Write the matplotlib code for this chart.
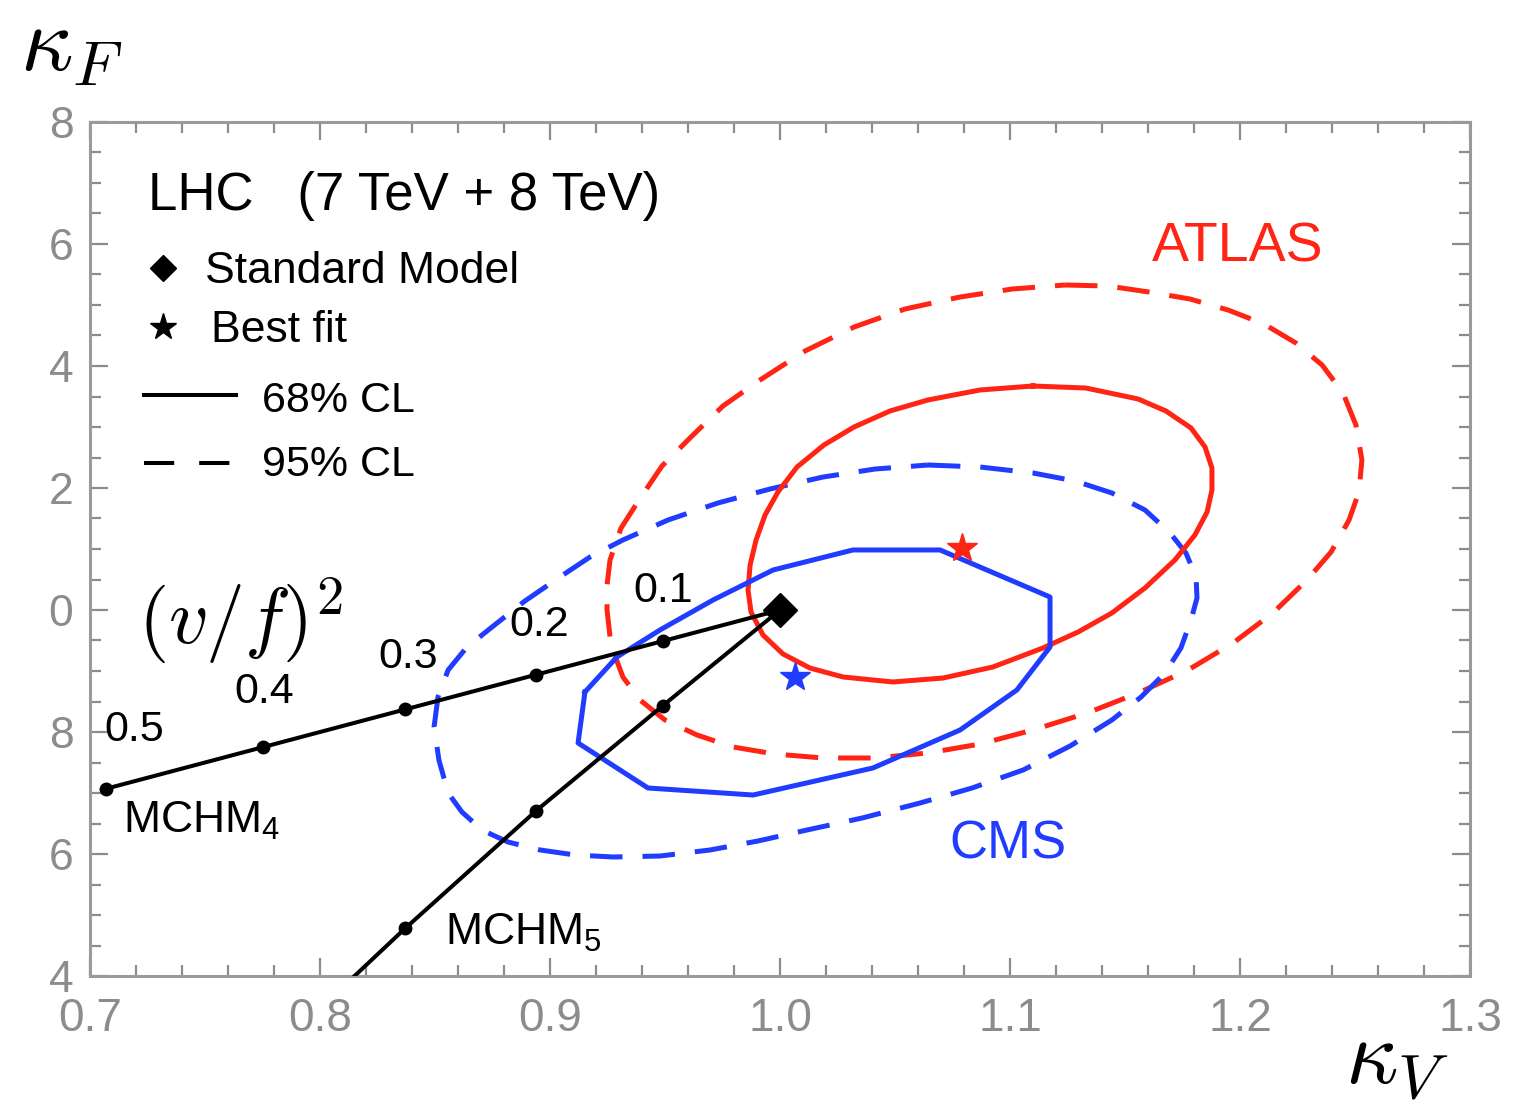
import matplotlib.pyplot as plt
import numpy as np
from matplotlib.ticker import MultipleLocator

plt.rcParams['font.family'] = ['Liberation Sans', 'DejaVu Sans']
plt.rcParams['mathtext.fontset'] = 'cm'
plt.rcParams['mathtext.rm'] = 'Liberation Sans'
plt.rcParams['mathtext.it'] = 'Liberation Sans:italic'

# composite Higgs benchmark lines, (v/f)^2 = 0 ... 0.5
xi = [0.0, 0.1, 0.2, 0.3, 0.4, 0.5]
mchm4_kv = [1.0, 0.949, 0.894, 0.837, 0.775, 0.707]
mchm4_kf = [1.0, 0.949, 0.894, 0.837, 0.775, 0.707]
mchm5_kv = [1.0, 0.949, 0.894, 0.837, 0.775]
mchm5_kf = [1.0, 0.843, 0.671, 0.478, 0.258]
xi_labels = ['0.1', '0.2', '0.3', '0.4', '0.5']

# ATLAS contours
atlas68_kv = [1.1100, 1.1330, 1.1557, 1.1678, 1.1787, 1.1848, 1.1878, 1.1878, 1.1857,
              1.1804, 1.1717, 1.1587, 1.1443, 1.1296, 1.1143, 1.0926, 1.0709, 1.0491,
              1.0274, 1.0130, 1.0013, 0.9926, 0.9874, 0.9861, 0.9870, 0.9896, 0.9935,
              0.9991, 1.0074, 1.0191, 1.0322, 1.0478, 1.0643, 1.0870, 1.1100]
atlas68_kf = [1.3672, 1.3639, 1.3459, 1.3262, 1.2984, 1.2672, 1.2328, 1.1967, 1.1607,
              1.1230, 1.0820, 1.0361, 0.9951, 0.9639, 0.9377, 0.9066, 0.8885, 0.8820,
              0.8902, 0.9049, 0.9279, 0.9590, 0.9967, 1.0328, 1.0738, 1.1148, 1.1557,
              1.1934, 1.2344, 1.2705, 1.3000, 1.3262, 1.3443, 1.3607, 1.3672]
atlas95_kv = [1.1239, 1.1426, 1.1604, 1.1783, 1.1948, 1.2104, 1.2243, 1.2357, 1.2448,
              1.2504, 1.2530, 1.2517, 1.2474, 1.2396, 1.2291, 1.2143, 1.1970, 1.1774,
              1.1557, 1.1335, 1.1100, 1.0870, 1.0643, 1.0413, 1.0187, 0.9978, 0.9796,
              0.9639, 0.9500, 0.9391, 0.9317, 0.9265, 0.9248, 0.9248, 0.9261, 0.9309,
              0.9387, 0.9487, 0.9613, 0.9752, 0.9913, 1.0109, 1.0322, 1.0543, 1.0783,
              1.1009, 1.1239]
atlas95_kf = [1.5328, 1.5311, 1.5213, 1.5098, 1.4918, 1.4689, 1.4377, 1.4016, 1.3557,
              1.3033, 1.2459, 1.1934, 1.1475, 1.0951, 1.0492, 0.9951, 0.9459, 0.9016,
              0.8639, 0.8311, 0.8033, 0.7803, 0.7656, 0.7574, 0.7574, 0.7639, 0.7754,
              0.7951, 0.8197, 0.8525, 0.8902, 0.9426, 1.0000, 1.0410, 1.0820, 1.1344,
              1.1803, 1.2361, 1.2836, 1.3344, 1.3770, 1.4246, 1.4639, 1.4934, 1.5131,
              1.5262, 1.5328]

# CMS contours
cms68_kv = [0.9152, 0.9291, 0.9478, 0.9709, 0.9970, 1.0317, 1.0696, 1.1174, 1.1174,
            1.1030, 1.0783, 1.0404, 0.9883, 0.9426, 0.9122, 0.9152]
cms68_kf = [0.8656, 0.9230, 0.9672, 1.0164, 1.0656, 1.0984, 1.0984, 1.0213, 0.9393,
            0.8689, 0.8033, 0.7410, 0.6967, 0.7082, 0.7820, 0.8656]
cms95_kv = [1.0643, 1.0870, 1.1100, 1.1283, 1.1443, 1.1587, 1.1696, 1.1765, 1.1809,
            1.1813, 1.1787, 1.1743, 1.1674, 1.1570, 1.1443, 1.1261, 1.1057, 1.0835,
            1.0609, 1.0357, 1.0117, 0.9904, 0.9696, 0.9478, 0.9274, 0.9109, 0.8957,
            0.8817, 0.8704, 0.8617, 0.8557, 0.8517, 0.8496, 0.8513, 0.8557, 0.8639,
            0.8748, 0.8891, 0.9043, 0.9174, 0.9317, 0.9513, 0.9730, 0.9957, 1.0187,
            1.0413, 1.0643]
cms95_kf = [1.2377, 1.2344, 1.2246, 1.2115, 1.1918, 1.1639, 1.1262, 1.0934, 1.0541,
            1.0197, 0.9836, 0.9377, 0.8967, 0.8574, 0.8197, 0.7770, 0.7377, 0.7082,
            0.6836, 0.6590, 0.6393, 0.6213, 0.6066, 0.5967, 0.5951, 0.5984, 0.6066,
            0.6197, 0.6393, 0.6689, 0.7000, 0.7541, 0.8082, 0.8574, 0.9016, 0.9393,
            0.9721, 1.0148, 1.0541, 1.0869, 1.1148, 1.1475, 1.1754, 1.1984, 1.2180,
            1.2311, 1.2377]

sm_point = (1.0, 1.0)
atlas_best = (1.0791, 1.1016)
cms_best = (1.0065, 0.8902)

xticks = [0.7, 0.8, 0.9, 1.0, 1.1, 1.2, 1.3]
xtick_labels = ['0.7', '0.8', '0.9', '1.0', '1.1', '1.2', '1.3']
yticks = [0.4, 0.6, 0.8, 1.0, 1.2, 1.4, 1.6, 1.8]
ytick_labels = ['4', '6', '8', '0', '2', '4', '6', '8']   # left part cropped in the original

red = '#ff2414'
blue = '#1f3cff'
gray = '#8c8c8c'

fig = plt.figure(figsize=(15.16, 11.07), dpi=100)
ax = fig.add_axes([90 / 1516, 131 / 1107, 1380 / 1516, 854 / 1107])

ax.plot(atlas95_kv, atlas95_kf, color=red, lw=3.6, ls=(0, (6.5, 4)), zorder=2)
ax.plot(cms95_kv, cms95_kf, color=blue, lw=3.6, ls=(0, (6.5, 4)), zorder=2)
ax.plot(atlas68_kv, atlas68_kf, color=red, lw=3.6, zorder=3)
ax.plot(cms68_kv, cms68_kf, color=blue, lw=3.6, zorder=3)

ax.plot(mchm4_kv, mchm4_kf, color='black', lw=2.9, zorder=4)
ax.plot(mchm4_kv[1:], mchm4_kf[1:], 'o', color='black', ms=9, zorder=4)
ax.plot(mchm5_kv, mchm5_kf, color='black', lw=2.9, zorder=4)
ax.plot(mchm5_kv[1:], mchm5_kf[1:], 'o', color='black', ms=9, zorder=4)

ax.plot(*sm_point, 'D', color='black', ms=17, zorder=6)
ax.plot(*atlas_best, '*', color=red, ms=22, zorder=6)
ax.plot(*cms_best, '*', color=blue, ms=22, zorder=6)

offs = [(0, 36), (2, 36), (2, 38), (1, 40), (20, 42)]
for lab, kv, kf, off in zip(xi_labels, mchm4_kv[1:], mchm4_kf[1:], offs):
    ax.annotate(lab, (kv, kf), xytext=off, textcoords='offset points',
                ha='center', va='center', fontsize=31)

ax.text(0.024, 0.1674, r'MCHM$_\mathrm{4}$', transform=ax.transAxes, fontsize=32,
        math_fontfamily='custom')
ax.text(0.2572, 0.0363, r'MCHM$_\mathrm{5}$', transform=ax.transAxes, fontsize=32,
        math_fontfamily='custom')
ax.text(0.035, 0.415, r'$(v/f)^2$', transform=ax.transAxes, fontsize=56,
        va='center')

ax.text(0.8319, 0.8536, 'ATLAS', color=red, transform=ax.transAxes, fontsize=40,
        ha='center', va='center')
ax.text(0.6652, 0.1534, 'CMS', color=blue, transform=ax.transAxes, fontsize=38,
        ha='center', va='center')

# legend block
ax.text(0.042, 0.897, 'LHC   (7 TeV + 8 TeV)', transform=ax.transAxes, fontsize=38)
ax.plot([0.0529], [0.829], 'D', color='black', ms=13, transform=ax.transAxes)
ax.text(0.0833, 0.8115, 'Standard Model', transform=ax.transAxes, fontsize=32)
ax.plot([0.0529], [0.760], '*', color='black', ms=20, transform=ax.transAxes)
ax.text(0.0877, 0.7424, 'Best fit', transform=ax.transAxes, fontsize=32)
ax.plot([0.0391, 0.1058], [0.680, 0.680], color='black', lw=2.9, transform=ax.transAxes)
ax.text(0.1246, 0.6604, '68% CL', transform=ax.transAxes, fontsize=31)
ax.plot([0.0391, 0.1029], [0.6007, 0.6007], color='black', lw=2.9, ls=(0, (7.5, 6.2)),
        transform=ax.transAxes)
ax.text(0.1246, 0.5855, '95% CL', transform=ax.transAxes, fontsize=31)

ax.set_xlim(0.7, 1.3)
ax.set_ylim(0.4, 1.8)
ax.set_xticks(xticks)
ax.set_xticklabels(xtick_labels)
ax.set_yticks(yticks)
ax.set_yticklabels(ytick_labels)
ax.xaxis.set_minor_locator(MultipleLocator(0.02))
ax.yaxis.set_minor_locator(MultipleLocator(0.05))
ax.tick_params(which='both', direction='in', top=True, right=True, color=gray,
               width=1.6, labelcolor=gray)
ax.tick_params(axis='x', labelsize=33, pad=15)
ax.tick_params(axis='y', labelsize=32, pad=12)
ax.tick_params(which='major', length=13)
ax.tick_params(which='minor', length=8)
for s in ax.spines.values():
    s.set_color('#9a9a9a')
    s.set_linewidth(2.2)

fig.text(1345 / 1516, 1 - 1084 / 1107, r'$\kappa_V$', fontsize=66)
fig.text(20 / 1516, 1 - 70 / 1107, r'$\kappa_F$', fontsize=66)

fig.savefig('out.png', dpi=100)
